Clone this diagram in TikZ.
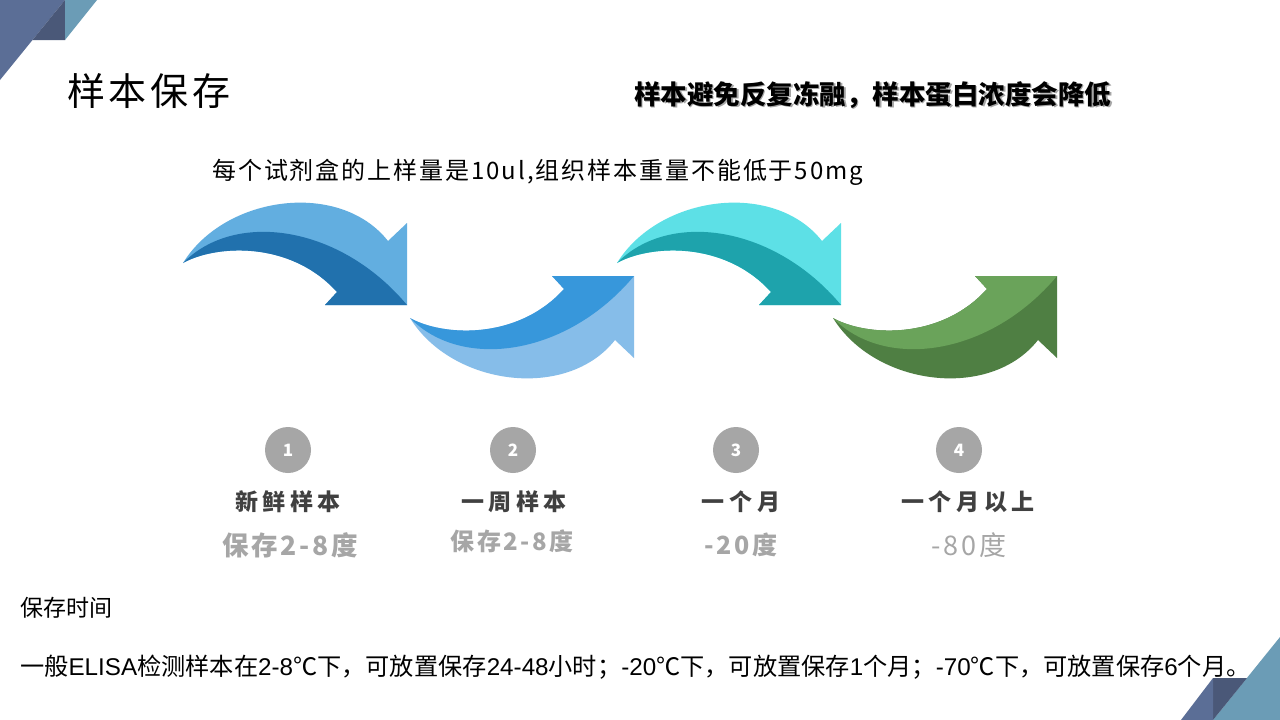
\documentclass[tikz,border=0pt]{standalone}
\usepackage{fontspec}
\newfontfamily\cjk{Noto Sans CJK SC}
\newfontfamily\cjkls{Noto Sans CJK SC}[LetterSpace=20]
\newfontfamily\cjkt{Noto Sans CJK SC}[LetterSpace=10]
\newfontfamily\cjkm{Noto Sans CJK SC}[LetterSpace=8]
\newfontfamily\lat{Liberation Sans}
\definecolor{slate}{HTML}{5B6E96}
\definecolor{slatedk}{HTML}{4A5878}
\definecolor{tealbl}{HTML}{6B9CB6}
\definecolor{aAo}{HTML}{62AEE0}
\definecolor{aAi}{HTML}{2171AD}
\definecolor{aBo}{HTML}{86BDE9}
\definecolor{aBi}{HTML}{3797DB}
\definecolor{aCo}{HTML}{5DE0E6}
\definecolor{aCi}{HTML}{1EA3AC}
\definecolor{aDo}{HTML}{4F7F43}
\definecolor{aDi}{HTML}{6AA35A}
\definecolor{numgray}{HTML}{A6A6A6}
\definecolor{labdark}{HTML}{404040}
\newcommand\swirl[2]{%
 \fill[#1] (0,0) .. controls (42,-68) and (157,-83) .. (205,-22) -- (224,-40) -- (224,42) -- (142,42) -- (154,29) .. controls (107,-23) and (32,-18) .. (0,0) -- cycle;
 \fill[#2] (0,0) .. controls (52,-53) and (157,-38) .. (224,42) -- (142,42) -- (154,29) .. controls (107,-23) and (32,-18) .. (0,0) -- cycle;
}
\tikzset{
 numdot/.style={circle, fill=numgray, minimum size=46pt, inner sep=0pt, text=white, font=\cjk\bfseries\fontsize{17}{17}\selectfont},
 labtop/.style={text=labdark, font=\cjkls\bfseries\fontsize{23}{23}\selectfont, inner sep=0pt},
 labsub/.style={text=numgray, inner sep=0pt},
 plain/.style={inner sep=0pt, anchor=west}
}
\begin{document}
\begin{tikzpicture}[x=1pt,y=-1pt]
\useasboundingbox (0,0) rectangle (1280,720);
\fill[white] (0,0) rectangle (1280,720);
% corners
\fill[slate] (0,0) -- (65,0) -- (0,80) -- cycle;
\fill[slatedk] (65,0) -- (65,40) -- (32.5,40) -- cycle;
\fill[tealbl] (65,0) -- (97,0) -- (65,40) -- cycle;
\fill[tealbl] (1280,720) -- (1280,637) -- (1213,720) -- cycle;
\fill[slatedk] (1213,720) -- (1213,678) -- (1247,678) -- cycle;
\fill[slate] (1213,720) -- (1213,678) -- (1181,720) -- cycle;
% titles
\node[plain] (title) at (67,91) {\cjkt\fontsize{38}{38}\selectfont 样本保存};
\node[plain, text=gray!70] (warnsh) at (635.5,96.5) {\cjk\bfseries\fontsize{26.5}{26.5}\selectfont 样本避免反复冻融，样本蛋白浓度会降低};
\node[plain] (warn) at (634,95) {\cjk\bfseries\fontsize{26.5}{26.5}\selectfont 样本避免反复冻融，样本蛋白浓度会降低};
\node[plain] (load) at (212,172) {\cjkm\fontsize{24}{24}\selectfont 每个试剂盒的上样量是10ul,组织样本重量不能低于50mg};
% arrows
\begin{scope}[shift={(183,263)}]\swirl{aAo}{aAi}\end{scope}
\begin{scope}[shift={(410,318)},yscale=-1]\swirl{aBo}{aBi}\end{scope}
\begin{scope}[shift={(617,263)}]\swirl{aCo}{aCi}\end{scope}
\begin{scope}[shift={(833,318)},yscale=-1]\swirl{aDo}{aDi}\end{scope}
% steps
\node[numdot] (n1) at (288,450) {1};
\node[numdot] (n2) at (513,450) {2};
\node[numdot] (n3) at (736,450) {3};
\node[numdot] (n4) at (959,450) {4};
\node[labtop] (t1) at (288,502) {新鲜样本};
\node[labtop] (t2) at (514,502) {一周样本};
\node[labtop] (t3) at (741,502) {一个月};
\node[labtop] (t4) at (968,502) {一个月以上};
\node[labsub, font=\cjkt\bfseries\fontsize{26.5}{26.5}\selectfont] (s1) at (290,545) {保存2-8度};
\node[labsub, font=\cjkt\bfseries\fontsize{24}{24}\selectfont] (s2) at (512,541) {保存2-8度};
\node[labsub, font=\cjkt\bfseries\fontsize{25}{25}\selectfont] (s3) at (741,545) {-20度};
\node[labsub, font=\cjkt\fontsize{27}{27}\selectfont] (s4) at (969,545) {-80度};
% bottom text
\node[plain] (keep) at (20,608) {\cjk\fontsize{23}{23}\selectfont 保存时间};
\node[plain] (rule) at (20,667) {\cjk\fontsize{24.2}{24.2}\selectfont 一般{\lat ELISA}检测样本在{\lat 2-8}℃下，可放置保存{\lat 24-48}小时；{\lat -20}℃下，可放置保存{\lat 1}个月；{\lat -70}℃下，可放置保存{\lat 6}个月。};
\end{tikzpicture}
\end{document}
